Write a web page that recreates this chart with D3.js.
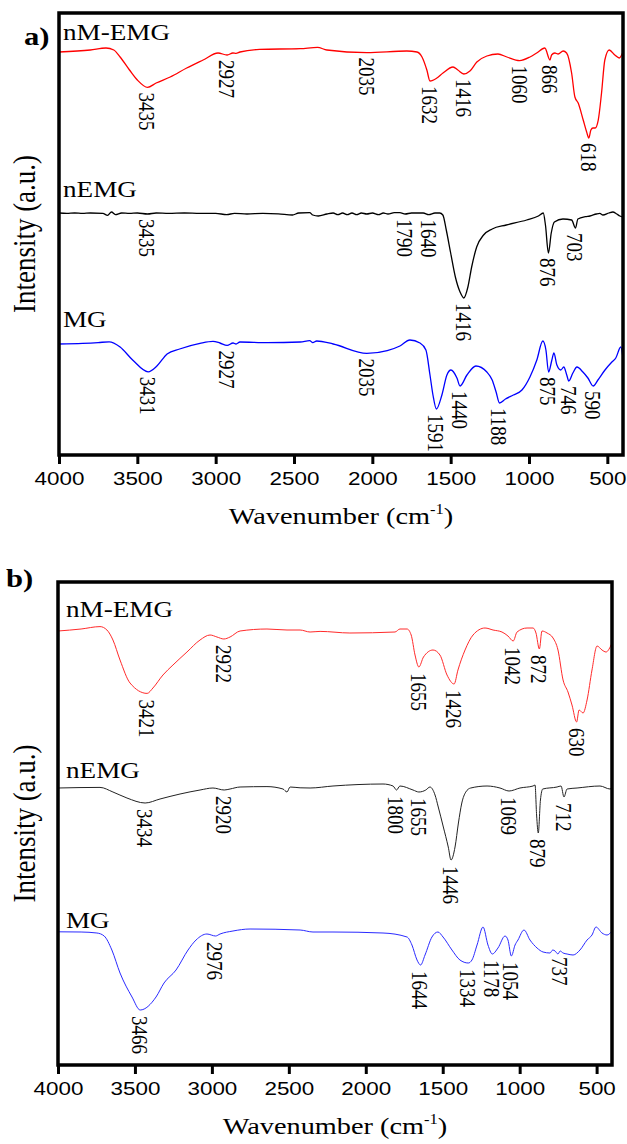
<!DOCTYPE html>
<html>
<head>
<meta charset="utf-8">
<script src="https://cdn.jsdelivr.net/npm/d3@7"></script>
<style>
  body { margin: 0; background: #fff; }
  svg { display: block; }
</style>
</head>
<body>
<svg id="chart" width="627" height="1144"></svg>
<script>
// ---------- data ----------
const tickValues = [4000, 3500, 3000, 2500, 2000, 1500, 1000, 500];
const seriesNames = ["nM-EMG", "nEMG", "MG"];

// (a) FTIR spectra: [wavenumber (cm-1), intensity (a.u.)]
const aNMEMG = [[4000,100.75],[3800,101.25],[3700,101.75],[3650,101.25],[3610,99.5],[3550,96.25],[3500,93.75],[3435,91.9],[3380,93],[3290,94.5],[3185,96.75],[3080,98.75],[2985,100.5],[2927,100],[2890,100.5],[2870,100.4],[2845,100.75],[2720,101.4],[2460,101.6],[2350,101.9],[2290,101.25],[2035,100.6],[1780,101],[1715,100.75],[1683,99.5],[1652,96.25],[1632,93.5],[1588,94.25],[1549,95.5],[1485,97],[1454,96.25],[1416,95.25],[1377,96],[1333,98.25],[1269,99.75],[1198,100.25],[1141,99.5],[1060,98.6],[994,99.5],[951,100.5],[899,101.75],[866,98.75],[856,100],[835,100.5],[814,100.25],[782,101],[760,100.5],[728,95.5],[707,89.5],[686,88],[654,83.75],[632,80.75],[618,79.25],[605,81.25],[592,81.75],[578,81.75],[558,83.75],[537,90.5],[516,98.75],[488,101.25],[452,100],[424,99.25],[400,100.75]];
const aNEMG = [[4000,60.5],[3950,60.4],[3900,60.5],[3850,60.4],[3800,60.5],[3720,60.4],[3690,59.9],[3665,60.75],[3640,60.1],[3600,60.5],[3550,60.4],[3500,60.5],[3435,60.25],[3380,60.5],[3300,60.4],[3200,60.5],[3100,60.4],[3000,60.4],[2930,60.1],[2880,60.4],[2800,60.25],[2700,60.4],[2600,60.3],[2510,60],[2470,60.5],[2400,60.6],[2380,60],[2345,59.75],[2290,60.25],[2250,60.5],[2220,60.1],[2190,60.5],[2160,60.1],[2130,60.5],[2100,60.1],[2070,60.5],[2035,60.25],[2000,60.5],[1960,60.1],[1930,60.5],[1900,60.25],[1860,60.6],[1824,60.6],[1790,60.25],[1750,60.5],[1716,60.5],[1675,60.5],[1640,60.1],[1600,60.5],[1570,60.5],[1550,60],[1528,56.25],[1500,50.5],[1470,44.5],[1440,40.75],[1416,39.25],[1390,42],[1366,47],[1334,52],[1290,55],[1235,56.5],[1145,57.5],[1015,58.75],[940,59.75],[909,60.5],[895,57.5],[876,50.5],[858,55.5],[838,58.25],[783,59],[728,58.75],[703,56.75],[688,59],[640,59.6],[611,59.75],[570,60.25],[548,60.4],[528,60],[490,60.5],[465,60.75],[440,60.25],[420,59.75],[400,59.5]];
const aMG = [[4000,27.75],[3850,27.9],[3750,28.1],[3680,28.3],[3610,27],[3530,23.75],[3431,20.8],[3375,22.25],[3310,25.25],[3230,26.5],[3100,27.9],[3017,28.4],[2973,28],[2927,27.4],[2889,28],[2870,27.75],[2845,28.25],[2670,28.1],[2460,28.25],[2400,28.6],[2380,28.1],[2355,28.5],[2250,27.75],[2035,25.4],[1905,26.1],[1824,27.25],[1760,28.75],[1696,28],[1658,26.25],[1632,20],[1613,15],[1591,11.5],[1556,15],[1524,20],[1498,21.25],[1460,19.25],[1440,17.25],[1396,20],[1339,22.25],[1269,20.75],[1235,18.75],[1210,15.75],[1188,13],[1150,14],[1100,15],[1045,16.25],[994,19.5],[950,23.75],[912,28.5],[892,26.25],[875,20.75],[854,23.75],[841,25.5],[822,22.5],[797,21.25],[778,22],[759,20],[746,18.5],[720,20.5],[694,22],[656,20.75],[624,19.25],[590,17.25],[560,18.75],[515,21.25],[471,23.25],[446,24.25],[414,27],[400,24.25]];
const aNMEMGPeaks = [3435, 2927, 2035, 1632, 1416, 1060, 866, 618];
const aNEMGPeaks = [3435, 1790, 1640, 1416, 876, 703];
const aMGPeaks = [3431, 2927, 2035, 1591, 1440, 1188, 875, 746, 590];

// (b) FTIR spectra: [wavenumber (cm-1), intensity (a.u.)]
const bNMEMG = [[4000,108.5],[3850,109],[3727,109.6],[3682,108.75],[3643,106.25],[3597,101.25],[3532,95.5],[3421,92.9],[3383,94.25],[3318,97.5],[3253,100],[3162,103.25],[3077,106.25],[3012,107.5],[2967,107],[2922,106.5],[2882,107],[2817,108.5],[2642,109],[2512,108.75],[2427,108.75],[2362,108.25],[2297,108.4],[2103,108],[1810,108.25],[1778,109],[1732,109],[1705,107.5],[1680,102.5],[1655,99.5],[1625,102],[1563,103.75],[1518,102.5],[1472,97.5],[1426,95.25],[1401,98.75],[1355,103.75],[1303,107.5],[1225,109.25],[1173,108.75],[1115,108.25],[1076,107.25],[1042,106],[1017,108.25],[952,109.25],[913,109.25],[894,108],[872,104],[855,108.5],[822,108],[783,106.75],[751,103.75],[718,96.25],[686,93.25],[660,90],[630,85.75],[614,88.75],[588,88],[562,91.25],[530,98.75],[497,104.75],[465,103.75],[439,103.25],[400,105.5]];
const bNEMG = [[4000,69.25],[3727,69.4],[3643,68.25],[3552,66.75],[3434,65.5],[3337,66.5],[3207,67.75],[3077,68.75],[2993,69.25],[2920,68.75],[2882,69],[2817,69.5],[2642,69.6],[2538,69],[2512,68.25],[2492,69.5],[2427,69.3],[2362,69.25],[2213,69.75],[1888,70.25],[1823,69.75],[1800,68.75],[1778,69.75],[1693,68.75],[1655,68.25],[1610,68.75],[1583,69.5],[1550,67.5],[1529,64.5],[1496,59.5],[1464,54.5],[1446,51.25],[1420,54.5],[1398,60.5],[1376,65.5],[1350,68.25],[1318,69.25],[1212,69.75],[1128,69.25],[1069,68.5],[998,69.25],[913,69.75],[900,70],[890,62.5],[879,58],[865,66.25],[850,69],[757,69.5],[731,69.75],[712,67],[692,69],[627,69.25],[478,69.75],[413,69],[400,69.25]];
const bMG = [[4000,33.3],[3850,33.25],[3747,33],[3700,32.25],[3650,28.75],[3597,23],[3519,17],[3466,13.75],[3363,17],[3311,20.5],[3233,23.75],[3155,28.75],[3103,31.25],[3032,32.75],[2976,32.25],[2947,32.75],[2863,33.5],[2752,34],[2427,33.75],[2343,33.25],[2213,33.25],[1888,33],[1732,32],[1700,30],[1667,26.25],[1644,25],[1615,27.5],[1570,32],[1531,33.25],[1498,32],[1440,28.75],[1388,26.25],[1334,25.5],[1310,26.25],[1277,30],[1238,34.5],[1206,30],[1178,27.75],[1141,29.25],[1095,32.25],[1076,31.25],[1054,27.25],[1030,30],[1011,31.25],[972,33.75],[933,31.25],[887,29.25],[848,28.25],[803,28],[785,28.75],[770,28.5],[751,27.75],[737,28.5],[718,28],[692,27.75],[653,27.5],[608,28.75],[562,31.25],[530,32.5],[504,34.5],[465,33],[432,32.5],[400,33.5]];
const bNMEMGPeaks = [3421, 2922, 1655, 1426, 1042, 872, 630];
const bNEMGPeaks = [3434, 2920, 1800, 1655, 1446, 1069, 879, 712];
const bMGPeaks = [3466, 2976, 1644, 1334, 1178, 1054, 737];

// ---------- layout ----------
const SERIF = "'Liberation Serif', 'Times New Roman', Times, serif";
const SANS = "'Liberation Sans', Arial, Helvetica, sans-serif";
const SX = 1.18; // horizontal stretch applied to all text

const panels = [
  {
    tag: "a)", tagX: 24, tagY: 45,
    left: 59, right: 623, top: 13, bottom: 455, yMax: 110.5,
    colors: ["#ff0000", "#000000", "#0000ff"], lineWidth: 1.3,
    nameDx: 4, nameDy: [12, 16, 17], gap: 5,
    series: [
      { name: seriesNames[0], data: aNMEMG, peaks: aNMEMGPeaks },
      { name: seriesNames[1], data: aNEMG, peaks: aNEMGPeaks },
      { name: seriesNames[2], data: aMG, peaks: aMGPeaks }
    ]
  },
  {
    tag: "b)", tagX: 6, tagY: 587,
    left: 58, right: 612, top: 582, bottom: 1065, yMax: 120.75,
    colors: ["#ff2a2a", "#222222", "#2a2aff"], lineWidth: 1,
    nameDx: 8, nameDy: [14, 10, 4], gap: 6,
    series: [
      { name: seriesNames[0], data: bNMEMG, peaks: bNMEMGPeaks },
      { name: seriesNames[1], data: bNEMG, peaks: bNEMGPeaks },
      { name: seriesNames[2], data: bMG, peaks: bMGPeaks }
    ]
  }
];

// linear interpolation of a spectrum (wavenumbers descending) at wn
function valueAt(data, wn) {
  for (let i = 0; i < data.length - 1; i++) {
    const [w0, v0] = data[i], [w1, v1] = data[i + 1];
    if (wn <= w0 && wn >= w1) {
      const t = (w0 - wn) / (w0 - w1);
      return v0 + t * (v1 - v0);
    }
  }
  return data[data.length - 1][1];
}

const svg = d3.select("#chart");
svg.append("rect").attr("width", 627).attr("height", 1144).attr("fill", "#fff");

panels.forEach(p => {
  const x = d3.scaleLinear().domain([4000, 400]).range([p.left, p.right]);
  const y = d3.scaleLinear().domain([0, p.yMax]).range([p.bottom, p.top]);
  const g = svg.append("g");

  const line = d3.line()
    .x(d => x(d[0]))
    .y(d => y(d[1]))
    .curve(d3.curveMonotoneX);

  p.series.forEach((s, i) => {
    g.append("path")
      .datum(s.data)
      .attr("d", line)
      .attr("fill", "none")
      .attr("stroke", p.colors[i])
      .attr("stroke-width", p.lineWidth)
      .attr("stroke-linejoin", "round");

    // series name above the trace
    g.append("text")
      .attr("transform", `translate(${p.left + p.nameDx},${y(s.data[0][1]) - p.nameDy[i]}) scale(${SX},1)`)
      .attr("font-family", SERIF)
      .attr("font-size", 23)
      .attr("fill", "#000")
      .text(s.name);

    // band positions, written downward beneath each band
    s.peaks.forEach(wn => {
      const v = valueAt(s.data, wn);
      g.append("text")
        .attr("transform", `translate(${x(wn)},${y(v) + p.gap}) scale(${SX},1) rotate(90)`)
        .attr("dominant-baseline", "central")
        .attr("text-anchor", "start")
        .attr("font-family", SERIF)
        .attr("font-size", 19)
        .attr("fill", "#000")
        .text(wn);
    });
  });

  // frame
  g.append("rect")
    .attr("x", p.left).attr("y", p.top)
    .attr("width", p.right - p.left).attr("height", p.bottom - p.top)
    .attr("fill", "none").attr("stroke", "#000").attr("stroke-width", 3.5);

  // bottom axis
  const axis = d3.axisBottom(x)
    .tickValues(tickValues)
    .tickSize(9)
    .tickPadding(8)
    .tickFormat(d3.format("d"));
  const axg = g.append("g").attr("transform", `translate(0,${p.bottom})`).call(axis);
  axg.select(".domain").remove();
  axg.selectAll(".tick line").attr("stroke", "#000").attr("stroke-width", 3);
  axg.selectAll(".tick text")
    .attr("font-family", SANS)
    .attr("font-size", 19)
    .attr("fill", "#000")
    .attr("transform", `scale(${SX},1)`);

  // axis titles
  const xt = g.append("text")
    .attr("transform", `translate(${(p.left + p.right) / 2},${p.bottom + 69}) scale(${SX},1)`)
    .attr("text-anchor", "middle")
    .attr("font-family", SERIF)
    .attr("font-size", 24)
    .attr("fill", "#000");
  xt.append("tspan").text("Wavenumber (cm");
  xt.append("tspan").attr("font-size", 14).attr("dy", -10).text("-1");
  xt.append("tspan").attr("dy", 10).text(")");

  g.append("text")
    .attr("transform", `translate(35,${(p.top + p.bottom) / 2}) scale(${SX},1) rotate(-90)`)
    .attr("text-anchor", "middle")
    .attr("font-family", SERIF)
    .attr("font-size", 27)
    .attr("fill", "#000")
    .text("Intensity (a.u.)");

  // panel tag
  g.append("text")
    .attr("transform", `translate(${p.tagX},${p.tagY}) scale(${SX},1)`)
    .attr("font-family", SERIF)
    .attr("font-size", 26)
    .attr("font-weight", "bold")
    .attr("fill", "#000")
    .text(p.tag);
});
</script>
</body>
</html>
